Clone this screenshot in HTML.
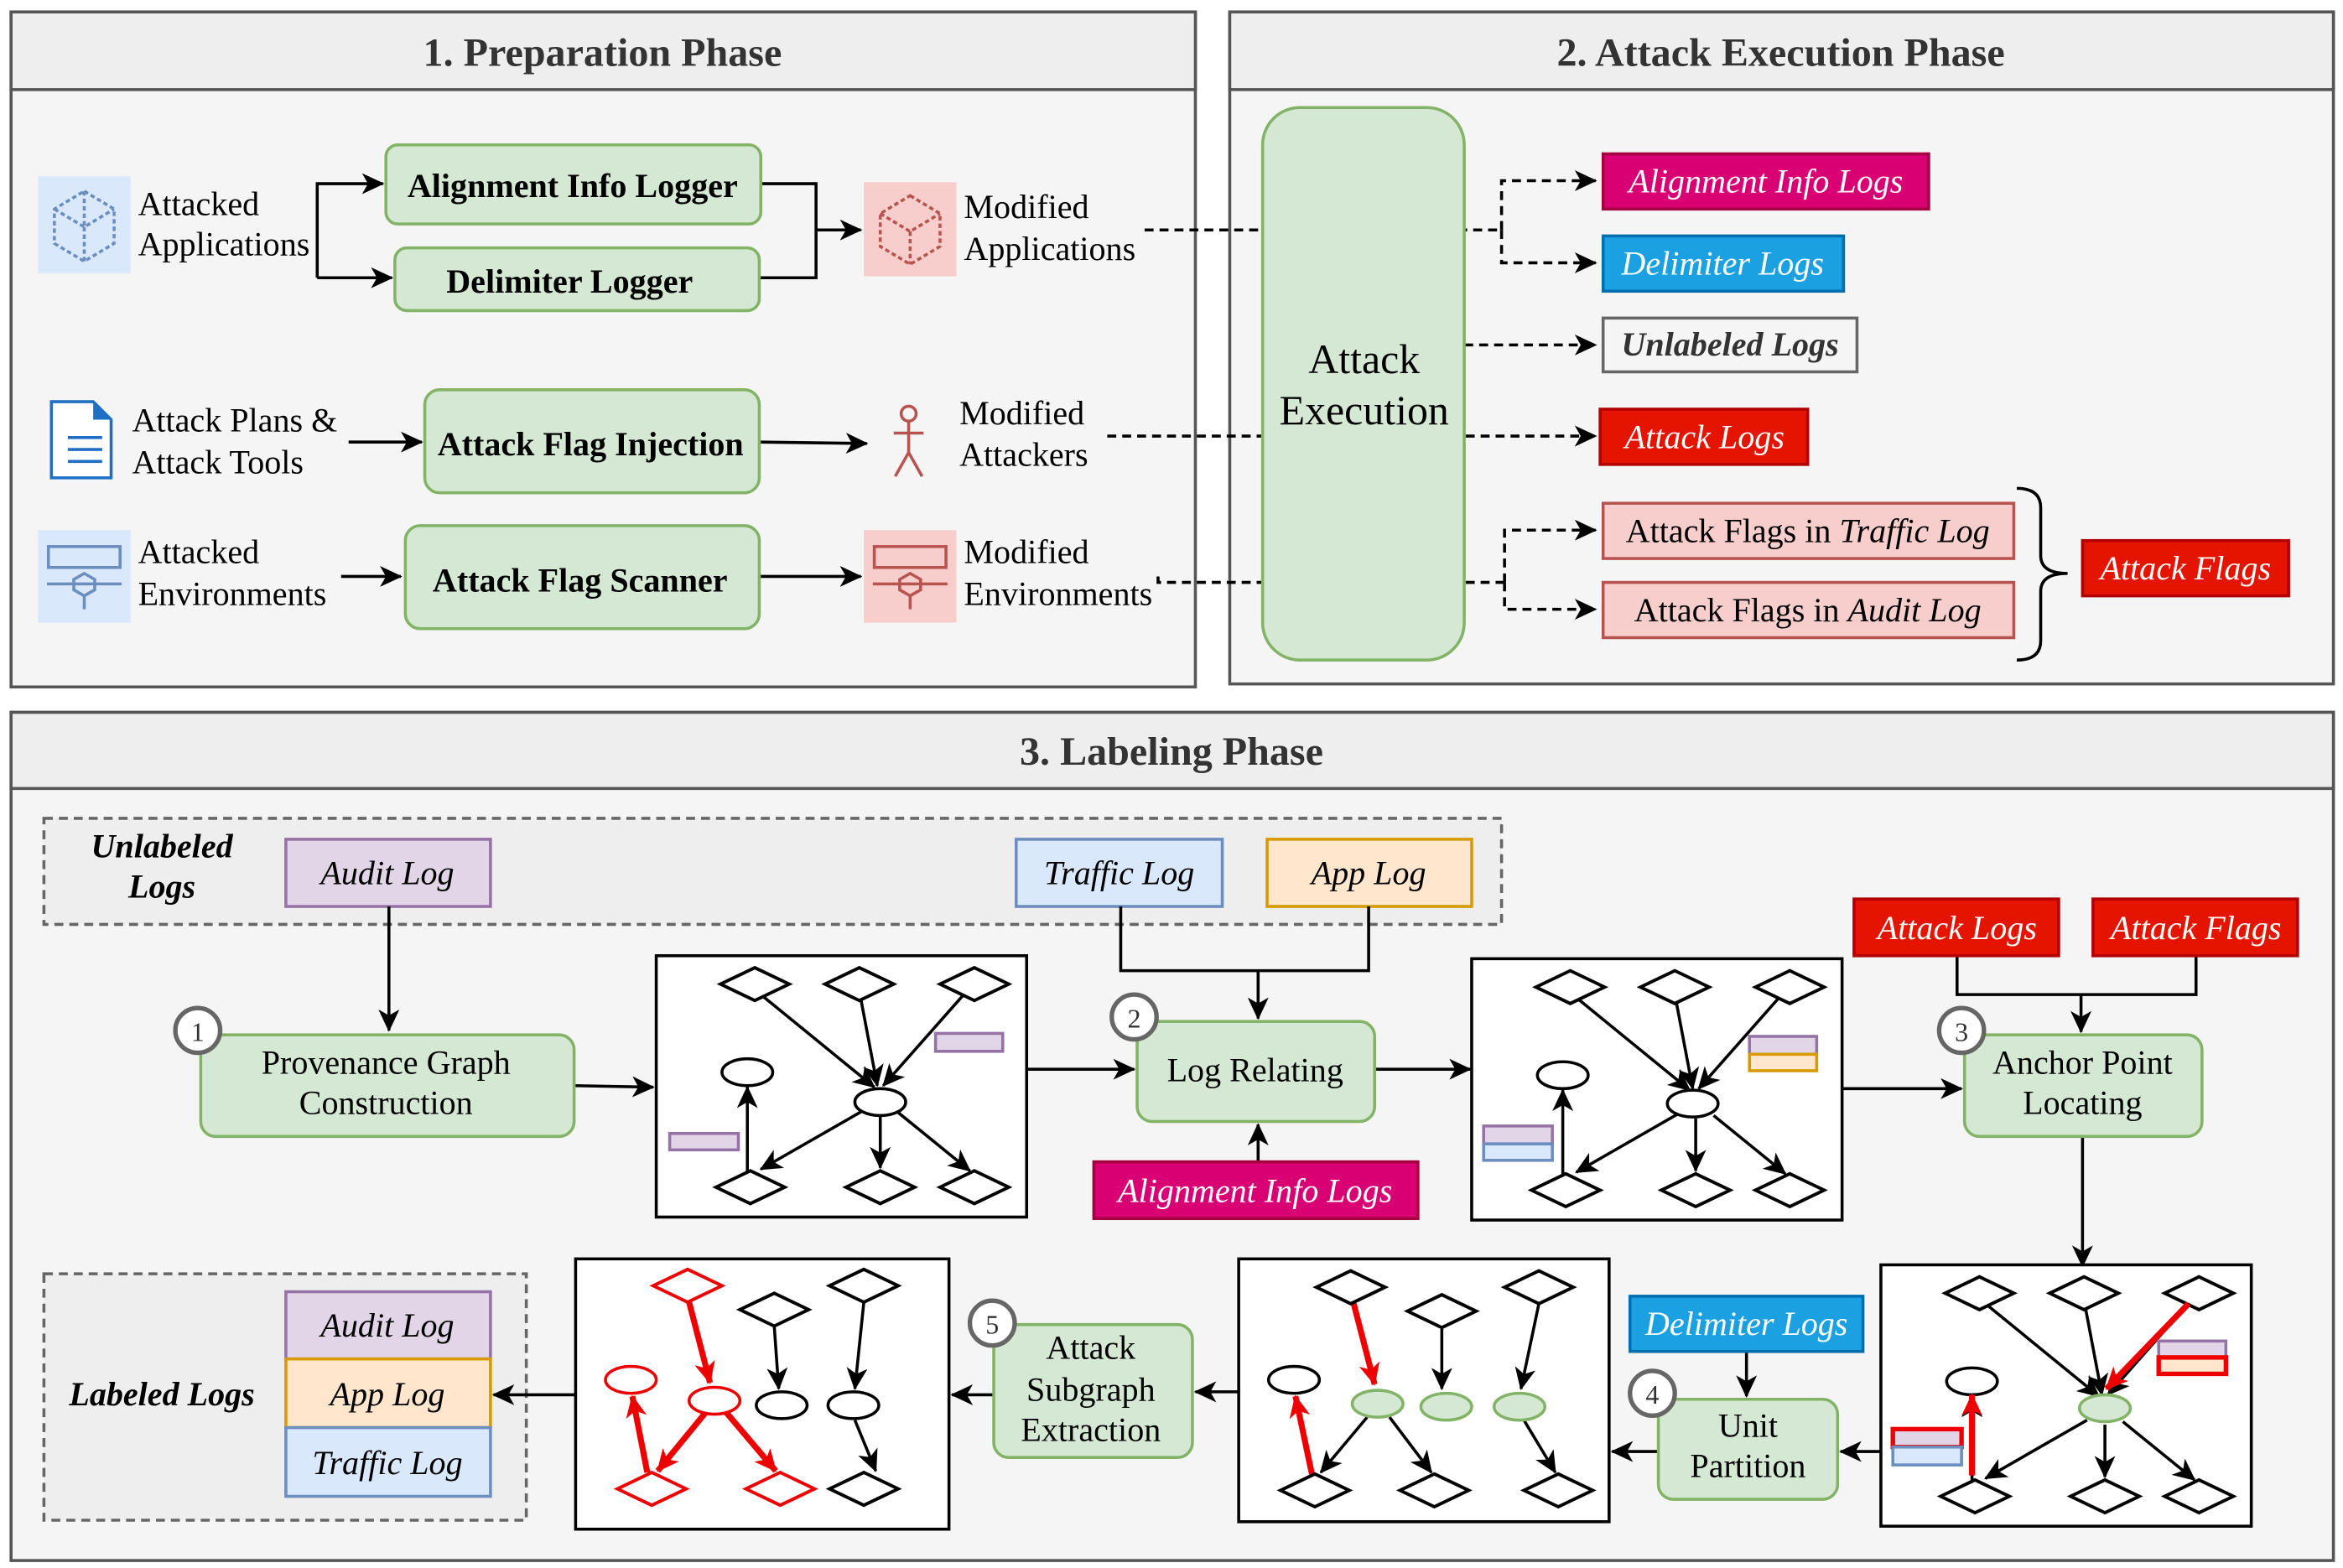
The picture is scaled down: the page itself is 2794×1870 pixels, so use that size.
<!DOCTYPE html>
<html><head><meta charset="utf-8"><style>
html,body{margin:0;padding:0;background:#fff}
svg{display:block}
text{font-family:"Liberation Serif",serif}
</style></head><body>
<svg width="2794" height="1870" viewBox="0 0 1568 1050" xmlns="http://www.w3.org/2000/svg">
<defs>
<marker id="a" markerUnits="userSpaceOnUse" markerWidth="16" markerHeight="14" refX="14" refY="7" orient="auto"><path d="M0,0 L15,7 L0,14 L4,7 Z" fill="#000"/></marker>
<marker id="r" markerUnits="userSpaceOnUse" markerWidth="16" markerHeight="14" refX="14" refY="7" orient="auto"><path d="M0,0 L15,7 L0,14 L4,7 Z" fill="#e00"/></marker>
<g id="dm"><path d="M-23,0 L0,-11 L23,0 L0,11 Z" fill="#fff" stroke="#000" stroke-width="2.2"/></g>
<g id="dr"><path d="M-23,0 L0,-11 L23,0 L0,11 Z" fill="#fff" stroke="#e00" stroke-width="2.2"/></g>
<g id="graph">
<rect x="0" y="0" width="248" height="175" fill="#fff" stroke="#000" stroke-width="2"/>
<g stroke="#000" stroke-width="2" fill="none" marker-end="url(#a)">
<line x1="70" y1="26" x2="146" y2="88"/>
<line x1="137" y1="29" x2="148" y2="87"/>
<line x1="205" y1="27" x2="152" y2="87"/>
<line x1="150" y1="107" x2="150" y2="142"/>
<line x1="162" y1="105" x2="210" y2="144"/>
<line x1="138" y1="104" x2="70" y2="143"/>
<line x1="61" y1="145" x2="61" y2="88"/>
</g>
<use href="#dm" x="66" y="19"/><use href="#dm" x="136" y="19"/><use href="#dm" x="213" y="19"/>
<ellipse cx="61" cy="78" rx="17" ry="9" fill="#fff" stroke="#000" stroke-width="2"/>
<use href="#dm" x="63" y="155"/><use href="#dm" x="150" y="155"/><use href="#dm" x="213" y="155"/>
</g>
</defs>

<rect x="7" y="8" width="793" height="452" fill="#f5f5f5" stroke="#555" stroke-width="2"/>
<rect x="7" y="8" width="793" height="52" fill="#eeeeee" stroke="#555" stroke-width="2"/>
<text x="403" y="44" font-size="27" font-weight="bold" text-anchor="middle" fill="#333">1. Preparation Phase</text>
<rect x="823" y="8" width="739" height="450" fill="#f5f5f5" stroke="#555" stroke-width="2"/>
<rect x="823" y="8" width="739" height="52" fill="#eeeeee" stroke="#555" stroke-width="2"/>
<text x="1192" y="44" font-size="27" font-weight="bold" text-anchor="middle" fill="#333">2. Attack Execution Phase</text>
<rect x="7" y="477" width="1555" height="568" fill="#f5f5f5" stroke="#555" stroke-width="2"/>
<rect x="7" y="477" width="1555" height="51" fill="#eeeeee" stroke="#555" stroke-width="2"/>
<text x="784" y="512" font-size="27" font-weight="bold" text-anchor="middle" fill="#333">3. Labeling Phase</text>

<rect x="25" y="118" width="62" height="65" fill="#dae8fc"/>
<g stroke="#6c8ebf" stroke-width="2" fill="none" stroke-dasharray="3,2"><path d="M56,128 L76,140 L76,163 L56,175 L36,163 L36,140 Z M56,128 L56,152 M36,140 L56,152 L76,140 M56,152 L56,175"/></g>
<g font-size="22.5">
<text x="92" y="144">Attacked</text><text x="92" y="171">Applications</text>
<text x="645" y="146">Modified</text><text x="645" y="174">Applications</text>
<text x="88" y="289">Attack Plans &amp;</text><text x="88" y="317">Attack Tools</text>
<text x="642" y="284">Modified</text><text x="642" y="312">Attackers</text>
<text x="92" y="377">Attacked</text><text x="92" y="405">Environments</text>
<text x="645" y="377">Modified</text><text x="645" y="405">Environments</text>
</g>
<g stroke="#000" stroke-width="2" fill="none">
<polyline points="212,186 212,123 256,123" marker-end="url(#a)"/>
<line x1="212" y1="186" x2="262" y2="186" marker-end="url(#a)"/>
<polyline points="509,123 546,123 546,186 508,186"/>
<line x1="546" y1="154" x2="576" y2="154" marker-end="url(#a)"/>
<line x1="233" y1="296" x2="282" y2="296" marker-end="url(#a)"/>
<line x1="508" y1="296" x2="580" y2="297" marker-end="url(#a)"/>
<line x1="228" y1="386" x2="268" y2="386" marker-end="url(#a)"/>
<line x1="508" y1="386" x2="576" y2="386" marker-end="url(#a)"/>
</g>
<g fill="#d5e8d4" stroke="#82b366" stroke-width="2">
<rect x="258" y="97" width="251" height="53" rx="8"/>
<rect x="264" y="166" width="244" height="42" rx="8"/>
<rect x="284" y="261" width="224" height="69" rx="10"/>
<rect x="271" y="352" width="237" height="69" rx="10"/>
</g>
<g font-size="22.5" font-weight="bold" text-anchor="middle">
<text x="383" y="132">Alignment Info Logger</text>
<text x="381" y="196">Delimiter Logger</text>
<text x="395" y="305">Attack Flag Injection</text>
<text x="388" y="396">Attack Flag Scanner</text>
</g>
<rect x="578" y="122" width="62" height="63" fill="#f8cecc"/>
<g stroke="#b85450" stroke-width="2" fill="none" stroke-dasharray="3,2"><path d="M609,131 L629,143 L629,165 L609,177 L589,165 L589,143 Z M589,143 L609,155 L629,143 M609,155 L609,177"/></g>
<path d="M34,269 L62,269 L74,281 L74,320 L34,320 Z" fill="#fff" stroke="#1f6fc5" stroke-width="2"/>
<path d="M62,269 L62,281 L74,281" fill="#1f6fc5"/>
<g stroke="#1f6fc5" stroke-width="2"><line x1="45" y1="293" x2="68" y2="293"/><line x1="45" y1="301" x2="68" y2="301"/><line x1="45" y1="309" x2="68" y2="309"/></g>
<g stroke="#b85450" stroke-width="2" fill="none"><circle cx="608" cy="277" r="5"/><line x1="608" y1="282" x2="608" y2="303"/><line x1="598" y1="290" x2="618" y2="290"/><line x1="608" y1="303" x2="599" y2="319"/><line x1="608" y1="303" x2="617" y2="319"/></g>
<rect x="25" y="355" width="62" height="62" fill="#dae8fc"/>
<g stroke="#6c8ebf" stroke-width="2" fill="none"><rect x="32" y="366" width="48" height="14"/><line x1="31" y1="391" x2="81" y2="391"/><path d="M56,384 L63,388 L63,395 L56,399 L49,395 L49,388 Z"/><line x1="56" y1="399" x2="56" y2="408"/></g>
<rect x="578" y="355" width="62" height="62" fill="#f8cecc"/>
<g stroke="#b85450" stroke-width="2" fill="none"><rect x="585" y="366" width="48" height="14"/><line x1="584" y1="391" x2="634" y2="391"/><path d="M609,384 L616,388 L616,395 L609,399 L602,395 L602,388 Z"/><line x1="609" y1="399" x2="609" y2="408"/></g>

<g stroke="#000" stroke-width="2" fill="none" stroke-dasharray="6,4">
<line x1="766" y1="154" x2="1005" y2="154"/>
<polyline points="1005,154 1005,121 1068,121" marker-end="url(#a)"/>
<polyline points="1005,154 1005,176 1068,176" marker-end="url(#a)"/>
<line x1="741" y1="292" x2="1068" y2="292" marker-end="url(#a)"/>
<polyline points="775,386 775,390 1007,390"/>
<polyline points="1007,390 1007,355 1068,355" marker-end="url(#a)"/>
<polyline points="1007,390 1007,408 1068,408" marker-end="url(#a)"/>
<line x1="980" y1="231" x2="1068" y2="231" marker-end="url(#a)"/>
</g>
<rect x="845" y="72" width="135" height="370" rx="25" fill="#d5e8d4" stroke="#82b366" stroke-width="2"/>
<text x="913" y="250" font-size="28" text-anchor="middle">Attack</text>
<text x="913" y="284" font-size="28" text-anchor="middle">Execution</text>

<g font-size="22.5" font-style="italic" text-anchor="middle">
<rect x="1073" y="103" width="218" height="37" fill="#d80073" stroke="#a50040" stroke-width="2"/><text x="1182" y="129" fill="#fff">Alignment Info Logs</text>
<rect x="1073" y="158" width="161" height="37" fill="#1ba1e2" stroke="#006eaf" stroke-width="2"/><text x="1153" y="184" fill="#fff">Delimiter Logs</text>
<rect x="1073" y="213" width="170" height="36" fill="#f5f5f5" stroke="#666" stroke-width="2"/><text x="1158" y="238" fill="#333" font-weight="bold">Unlabeled Logs</text>
<rect x="1071" y="274" width="139" height="37" fill="#e51400" stroke="#b20000" stroke-width="2"/><text x="1141" y="300" fill="#fff">Attack Logs</text>
<rect x="1394" y="362" width="138" height="37" fill="#e51400" stroke="#b20000" stroke-width="2"/><text x="1463" y="388" fill="#fff">Attack Flags</text>
</g>
<rect x="1073" y="337" width="275" height="37" fill="#f8cecc" stroke="#b85450" stroke-width="2"/>
<text x="1210" y="363" font-size="22.5" text-anchor="middle">Attack Flags in <tspan font-style="italic">Traffic Log</tspan></text>
<rect x="1073" y="390" width="275" height="37" fill="#f8cecc" stroke="#b85450" stroke-width="2"/>
<text x="1210" y="416" font-size="22.5" text-anchor="middle">Attack Flags in <tspan font-style="italic">Audit Log</tspan></text>
<path d="M1350,327 Q1366,327 1366,340 L1366,372 Q1366,384 1384,384 Q1366,384 1366,396 L1366,429 Q1366,442 1350,442" fill="none" stroke="#000" stroke-width="2"/>

<rect x="29" y="548" width="976" height="71" fill="#eeeeee" stroke="#666" stroke-width="2" stroke-dasharray="6,4"/>
<text x="108" y="574" font-size="22.5" font-weight="bold" font-style="italic" text-anchor="middle">Unlabeled</text>
<text x="108" y="601" font-size="22.5" font-weight="bold" font-style="italic" text-anchor="middle">Logs</text>
<g font-size="22.5" font-style="italic" text-anchor="middle" stroke-width="2">
<rect x="191" y="562" width="137" height="45" fill="#e1d5e7" stroke="#9673a6"/><text x="259" y="592">Audit Log</text>
<rect x="680" y="562" width="138" height="45" fill="#dae8fc" stroke="#6c8ebf"/><text x="749" y="592">Traffic Log</text>
<rect x="848" y="562" width="137" height="45" fill="#ffe6cc" stroke="#d79b00"/><text x="916" y="592">App Log</text>
</g>
<g stroke="#000" stroke-width="2" fill="none">
<line x1="260" y1="607" x2="260" y2="690" marker-end="url(#a)"/>
<line x1="384" y1="727" x2="437" y2="728" marker-end="url(#a)"/>
<line x1="687" y1="716" x2="759" y2="716" marker-end="url(#a)"/>
<polyline points="750,607 750,650 916,650 916,607"/>
<line x1="842" y1="650" x2="842" y2="682" marker-end="url(#a)"/>
<line x1="842" y1="778" x2="842" y2="753" marker-end="url(#a)"/>
<line x1="920" y1="716" x2="984" y2="716" marker-end="url(#a)"/>
<line x1="1232" y1="729" x2="1313" y2="729" marker-end="url(#a)"/>
<polyline points="1310,640 1310,666 1470,666 1470,640"/>
<line x1="1393" y1="666" x2="1393" y2="691" marker-end="url(#a)"/>
<line x1="1394" y1="761" x2="1394" y2="848" marker-end="url(#a)"/>
<line x1="1259" y1="972" x2="1232" y2="972" marker-end="url(#a)"/>
<line x1="1169" y1="905" x2="1169" y2="935" marker-end="url(#a)"/>
<line x1="1110" y1="972" x2="1079" y2="972" marker-end="url(#a)"/>
<line x1="829" y1="932" x2="800" y2="932" marker-end="url(#a)"/>
<line x1="665" y1="934" x2="637" y2="934" marker-end="url(#a)"/>
</g>
<g fill="#d5e8d4" stroke="#82b366" stroke-width="2">
<rect x="134" y="693" width="250" height="68" rx="10"/>
<rect x="761" y="684" width="159" height="67" rx="10"/>
<rect x="1315" y="693" width="159" height="68" rx="10"/>
<rect x="1110" y="937" width="120" height="67" rx="10"/>
<rect x="665" y="887" width="133" height="89" rx="10"/>
</g>
<g font-size="22.5" text-anchor="middle">
<text x="258" y="719">Provenance Graph</text><text x="258" y="746">Construction</text>
<text x="840" y="724">Log Relating</text>
<text x="1394" y="719">Anchor Point</text><text x="1394" y="746">Locating</text>
<text x="1170" y="962">Unit</text><text x="1170" y="989">Partition</text>
<text x="730" y="910">Attack</text><text x="730" y="938">Subgraph</text><text x="730" y="965">Extraction</text>
</g>
<g fill="#fff" stroke="#666" stroke-width="3">
<circle cx="132" cy="690" r="15"/><circle cx="759" cy="681" r="15"/><circle cx="1313" cy="690" r="15"/><circle cx="1106" cy="933" r="15"/><circle cx="664" cy="886" r="15"/>
</g>
<g font-size="18" text-anchor="middle" fill="#333">
<text x="132" y="697">1</text><text x="759" y="688">2</text><text x="1313" y="697">3</text><text x="1106" y="940">4</text><text x="664" y="893">5</text>
</g>
<g font-size="22.5" font-style="italic" text-anchor="middle" stroke-width="2">
<rect x="732" y="778" width="217" height="38" fill="#d80073" stroke="#a50040"/><text x="840" y="805" fill="#fff">Alignment Info Logs</text>
<rect x="1241" y="602" width="137" height="38" fill="#e51400" stroke="#b20000"/><text x="1310" y="629" fill="#fff">Attack Logs</text>
<rect x="1401" y="602" width="137" height="38" fill="#e51400" stroke="#b20000"/><text x="1470" y="629" fill="#fff">Attack Flags</text>
<rect x="1091" y="868" width="156" height="37" fill="#1ba1e2" stroke="#006eaf"/><text x="1169" y="894" fill="#fff">Delimiter Logs</text>
</g>

<g transform="translate(439,640)"><use href="#graph"/><ellipse cx="150" cy="98" rx="17" ry="9" fill="#fff" stroke="#000" stroke-width="2"/></g>
<rect x="626" y="692" width="45" height="12" fill="#e1d5e7" stroke="#9673a6" stroke-width="2"/>
<rect x="448" y="759" width="46" height="11" fill="#e1d5e7" stroke="#9673a6" stroke-width="2"/>
<g transform="translate(985,642)"><use href="#graph"/><ellipse cx="148" cy="97" rx="17" ry="9" fill="#fff" stroke="#000" stroke-width="2"/></g>
<rect x="1171" y="694" width="45" height="12" fill="#e1d5e7" stroke="#9673a6" stroke-width="2"/>
<rect x="1171" y="706" width="45" height="11" fill="#ffe6cc" stroke="#d79b00" stroke-width="2"/>
<rect x="993" y="754" width="46" height="12" fill="#e1d5e7" stroke="#9673a6" stroke-width="2"/>
<rect x="993" y="766" width="46" height="11" fill="#dae8fc" stroke="#6c8ebf" stroke-width="2"/>
<g transform="translate(1259,847)"><use href="#graph"/><ellipse cx="150" cy="96" rx="17" ry="9" fill="#d5e8d4" stroke="#82b366" stroke-width="2"/></g>
<line x1="1465" y1="873" x2="1410" y2="930" stroke="#e00" stroke-width="4" marker-end="url(#r)"/>
<line x1="1320" y1="988" x2="1320" y2="934" stroke="#e00" stroke-width="4" marker-end="url(#r)"/>
<rect x="1445" y="898" width="45" height="11" fill="#e1d5e7" stroke="#9673a6" stroke-width="2"/>
<rect x="1445" y="909" width="45" height="11" fill="#ffe6cc" stroke="#e00" stroke-width="3"/>
<rect x="1267" y="957" width="46" height="12" fill="#e1d5e7" stroke="#e00" stroke-width="3"/>
<rect x="1267" y="969" width="46" height="12" fill="#dae8fc" stroke="#6c8ebf" stroke-width="2"/>

<rect x="829" y="843" width="248" height="176" fill="#fff" stroke="#000" stroke-width="2"/>
<g stroke="#000" stroke-width="2" fill="none" marker-end="url(#a)">
<line x1="965" y1="890" x2="965" y2="930"/>
<line x1="1030" y1="873" x2="1018" y2="930"/>
<line x1="915" y1="949" x2="884" y2="986"/>
<line x1="930" y1="949" x2="958" y2="986"/>
<line x1="1020" y1="951" x2="1041" y2="986"/>
</g>
<line x1="906" y1="873" x2="920" y2="927" stroke="#e00" stroke-width="4" marker-end="url(#r)"/>
<line x1="878" y1="987" x2="867" y2="935" stroke="#e00" stroke-width="4" marker-end="url(#r)"/>
<use href="#dm" x="904" y="862"/><use href="#dm" x="965" y="878"/><use href="#dm" x="1030" y="862"/>
<ellipse cx="866" cy="924" rx="17" ry="9" fill="#fff" stroke="#000" stroke-width="2"/>
<ellipse cx="922" cy="940" rx="17" ry="9" fill="#d5e8d4" stroke="#82b366" stroke-width="2"/>
<ellipse cx="968" cy="942" rx="17" ry="9" fill="#d5e8d4" stroke="#82b366" stroke-width="2"/>
<ellipse cx="1017" cy="942" rx="17" ry="9" fill="#d5e8d4" stroke="#82b366" stroke-width="2"/>
<use href="#dm" x="880" y="998"/><use href="#dm" x="960" y="998"/><use href="#dm" x="1043" y="998"/>

<rect x="385" y="843" width="250" height="181" fill="#fff" stroke="#000" stroke-width="2"/>
<g stroke="#000" stroke-width="2" fill="none" marker-end="url(#a)">
<line x1="518" y1="888" x2="521" y2="930"/>
<line x1="578" y1="872" x2="572" y2="930"/>
<line x1="572" y1="951" x2="586" y2="985"/>
</g>
<g stroke="#e00" stroke-width="4" fill="none" marker-end="url(#r)">
<line x1="461" y1="872" x2="475" y2="926"/>
<line x1="472" y1="946" x2="440" y2="985"/>
<line x1="486" y1="946" x2="519" y2="985"/>
<line x1="433" y1="986" x2="423" y2="935"/>
</g>
<use href="#dr" x="460" y="861"/><use href="#dm" x="518" y="877"/><use href="#dm" x="578" y="861"/>
<ellipse cx="422" cy="924" rx="17" ry="9" fill="#fff" stroke="#e00" stroke-width="2"/>
<ellipse cx="478" cy="938" rx="17" ry="9" fill="#fff" stroke="#e00" stroke-width="2"/>
<ellipse cx="523" cy="941" rx="17" ry="9" fill="#fff" stroke="#000" stroke-width="2"/>
<ellipse cx="571" cy="941" rx="17" ry="9" fill="#fff" stroke="#000" stroke-width="2"/>
<use href="#dr" x="436" y="997"/><use href="#dr" x="522" y="997"/><use href="#dm" x="578" y="997"/>

<rect x="29" y="853" width="323" height="165" fill="#eeeeee" stroke="#666" stroke-width="2" stroke-dasharray="6,4"/>
<text x="108" y="941" font-size="22.5" font-weight="bold" font-style="italic" text-anchor="middle">Labeled Logs</text>
<g font-size="22.5" font-style="italic" text-anchor="middle" stroke-width="2">
<rect x="191" y="865" width="137" height="45" fill="#e1d5e7" stroke="#9673a6"/><text x="259" y="895">Audit Log</text>
<rect x="191" y="910" width="137" height="46" fill="#ffe6cc" stroke="#d79b00"/><text x="259" y="941">App Log</text>
<rect x="191" y="956" width="137" height="46" fill="#dae8fc" stroke="#6c8ebf"/><text x="259" y="987">Traffic Log</text>
</g>
<line x1="385" y1="934" x2="330" y2="934" stroke="#000" stroke-width="2" marker-end="url(#a)"/>
</svg>
</body></html>
